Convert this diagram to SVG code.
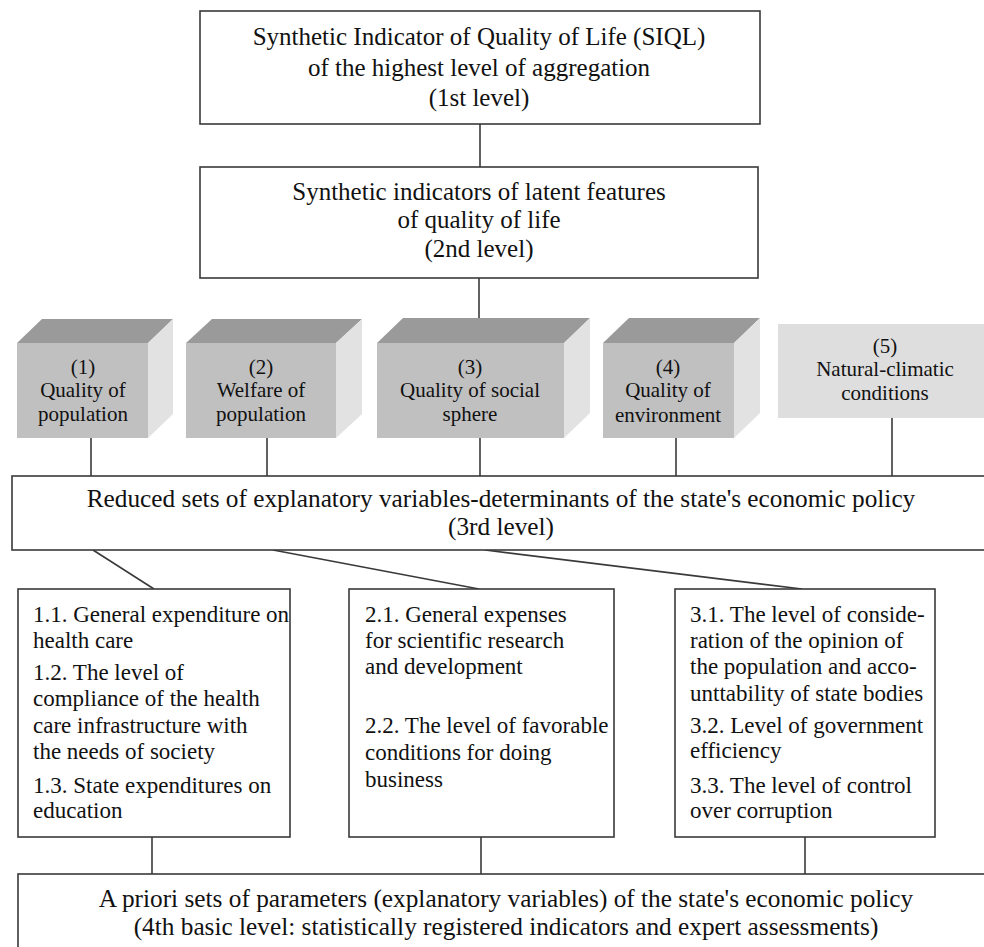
<svg xmlns="http://www.w3.org/2000/svg" width="984" height="947" viewBox="0 0 984 947">
<style>
.box{fill:#fff;stroke:#3a3a3a;stroke-width:1.6}
.front{fill:#c0c0c0}
.top{fill:#9a9a9a}
.side{fill:#e2e2e2}
.flat{fill:#dedede}
.ln{stroke:#3a3a3a;stroke-width:1.6;fill:none}
text{font-family:"Liberation Serif","Times New Roman",serif;fill:#111}
.t1{font-size:25px;text-anchor:middle}
.t3{font-size:25.3px;text-anchor:middle}
.tc{font-size:21px;text-anchor:middle}
.t4{font-size:23px}
</style>
<rect width="984" height="947" fill="#fff"/>
<g id="connectors">
<line class="ln" x1="480" y1="124" x2="480" y2="167"/>
<line class="ln" x1="479" y1="278" x2="479" y2="318"/>
<line class="ln" x1="91" y1="438" x2="91" y2="476"/>
<line class="ln" x1="267" y1="438" x2="267" y2="476"/>
<line class="ln" x1="480" y1="438" x2="480" y2="476"/>
<line class="ln" x1="676" y1="438" x2="676" y2="476"/>
<line class="ln" x1="892" y1="418" x2="892" y2="476"/>
<line class="ln" x1="93" y1="550" x2="154" y2="589"/>
<line class="ln" x1="273" y1="550" x2="479" y2="589"/>
<line class="ln" x1="485" y1="550" x2="802" y2="589"/>
<line class="ln" x1="152" y1="837" x2="152" y2="874"/>
<line class="ln" x1="481" y1="837" x2="481" y2="874"/>
<line class="ln" x1="805" y1="837" x2="805" y2="874"/>
</g>
<g id="level1">
<rect class="box" x="200" y="11" width="560" height="113"/>
<text class="t1" x="479" y="45">Synthetic Indicator of Quality of Life (SIQL)</text>
<text class="t1" x="479" y="76">of the highest level of aggregation</text>
<text class="t1" x="479" y="106">(1st level)</text>
</g>
<g id="level2">
<rect class="box" x="200" y="167" width="558" height="111"/>
<text class="t1" x="479" y="200">Synthetic indicators of latent features</text>
<text class="t1" x="479" y="228">of quality of life</text>
<text class="t1" x="479" y="257">(2nd level)</text>
</g>
<g id="cube1">
<polygon class="top" points="17,343 42,319 173,319 148,343"/>
<polygon class="side" points="148,343 173,319 173,414 148,438"/>
<rect class="front" x="17" y="343" width="131" height="95"/>
<text class="tc" x="83" y="374">(1)</text>
<text class="tc" x="83" y="397">Quality of</text>
<text class="tc" x="83" y="421">population</text>
</g>
<g id="cube2">
<polygon class="top" points="186,343 212,319 362,319 336,343"/>
<polygon class="side" points="336,343 362,319 362,414 336,438"/>
<rect class="front" x="186" y="343" width="150" height="95"/>
<text class="tc" x="261" y="374">(2)</text>
<text class="tc" x="261" y="397">Welfare of</text>
<text class="tc" x="261" y="421">population</text>
</g>
<g id="cube3">
<polygon class="top" points="377,343 403,318 590,318 564,343"/>
<polygon class="side" points="564,343 590,318 590,413 564,438"/>
<rect class="front" x="377" y="343" width="187" height="95"/>
<text class="tc" x="470" y="374">(3)</text>
<text class="tc" x="470" y="397">Quality of social</text>
<text class="tc" x="470" y="421">sphere</text>
</g>
<g id="cube4">
<polygon class="top" points="603,343 629,318 760,318 734,343"/>
<polygon class="side" points="734,343 760,318 760,413 734,438"/>
<rect class="front" x="603" y="343" width="131" height="95"/>
<text class="tc" x="668" y="374">(4)</text>
<text class="tc" x="668" y="397">Quality of</text>
<text class="tc" x="668" y="422">environment</text>
</g>
<g id="box5">
<rect class="flat" x="778" y="324" width="214" height="94"/>
<text class="tc" x="885" y="353">(5)</text>
<text class="tc" x="885" y="376">Natural-climatic</text>
<text class="tc" x="885" y="400">conditions</text>
</g>
<g id="level3">
<rect class="box" x="12" y="476" width="980" height="74"/>
<text class="t3" x="501" y="507">Reduced sets of explanatory variables-determinants of the state's economic policy</text>
<text class="t3" x="501" y="535">(3rd level)</text>
</g>
<g id="group1">
<rect class="box" x="18" y="589" width="272" height="248"/>
<text class="t4" x="33" y="622">1.1. General expenditure on</text>
<text class="t4" x="33" y="648">health care</text>
<text class="t4" x="33" y="680">1.2. The level of</text>
<text class="t4" x="33" y="706">compliance of the health</text>
<text class="t4" x="33" y="733">care infrastructure with</text>
<text class="t4" x="33" y="759">the needs of society</text>
<text class="t4" x="33" y="793">1.3. State expenditures on</text>
<text class="t4" x="33" y="818">education</text>
</g>
<g id="group2">
<rect class="box" x="349" y="589" width="265" height="248"/>
<text class="t4" x="365" y="622">2.1. General expenses</text>
<text class="t4" x="365" y="648">for scientific research</text>
<text class="t4" x="365" y="674">and development</text>
<text class="t4" x="365" y="733">2.2. The level of favorable</text>
<text class="t4" x="365" y="760">conditions for doing</text>
<text class="t4" x="365" y="787">business</text>
</g>
<g id="group3">
<rect class="box" x="675" y="589" width="260" height="248"/>
<text class="t4" x="690" y="622">3.1. The level of conside-</text>
<text class="t4" x="690" y="648">ration of the opinion of</text>
<text class="t4" x="690" y="674">the population and acco-</text>
<text class="t4" x="690" y="701">unttability of state bodies</text>
<text class="t4" x="690" y="733">3.2. Level of government</text>
<text class="t4" x="690" y="758">efficiency</text>
<text class="t4" x="690" y="793">3.3. The level of control</text>
<text class="t4" x="690" y="818">over corruption</text>
</g>
<g id="level4">
<rect class="box" x="18" y="874" width="974" height="90"/>
<text class="t3" x="506" y="907">A priori sets of parameters (explanatory variables) of the state's economic policy</text>
<text class="t3" x="506" y="935">(4th basic level:  statistically registered indicators and expert assessments)</text>
</g>
</svg>
